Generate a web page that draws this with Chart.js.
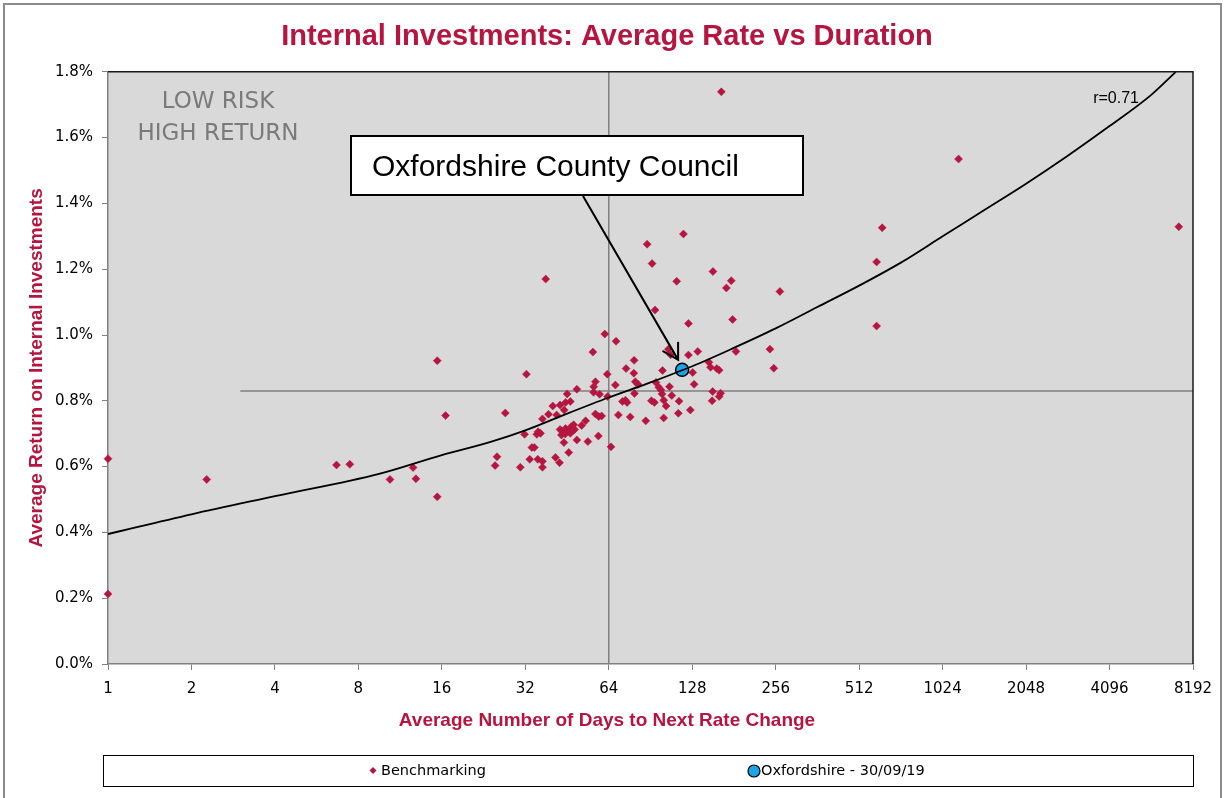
<!DOCTYPE html>
<html>
<head>
<meta charset="utf-8">
<script src="https://cdn.jsdelivr.net/npm/chart.js@4.4.1/dist/chart.umd.min.js"></script>
<style>
  html, body { margin: 0; padding: 0; background: #fff; overflow: hidden; }
</style>
</head>
<body>
<canvas id="myChart" width="1227" height="798"></canvas>
<script>
// values (days, % rate)
const benchDays = [1, 1, 2.27, 6.67, 7.45, 10.4, 12.6, 12.9, 15.4, 15.4,
  16.5, 24.9, 25.3, 27.1, 30.7, 31.8, 32.3, 33.2, 33.8, 34.5,
  35.2, 35.6, 36.3, 35.5, 36.9, 36.9, 36.9, 37.9, 38.8, 40.2,
  41.1, 41.5, 42.5, 42.7, 44.1, 44.2, 44.7, 45.3, 45.9, 46.5,
  49.1, 49.1, 47.8, 51.1, 52.8, 53.8, 56.1, 56.5, 57.3, 56.4,
  59.3, 57.3, 58.9, 60.3, 58.7, 61.9, 63.2, 63.4, 65.2, 67.6,
  68, 69.3, 71.7, 73.5, 74.5, 73.9, 76.5, 78.8, 79, 79.2,
  79.8, 81.6, 87, 88, 91.2, 91.7, 93.5, 94, 94.7, 97,
  98.7, 99.6, 100, 101, 101, 103, 105, 107, 106, 108,
  112.5, 114.7, 114, 119, 124, 124, 126, 128.5, 130, 134,
  147, 149, 152, 151.7, 151, 157, 160, 162, 160, 163,
  170, 177, 179, 184, 244, 252, 265, 592, 592, 620,
  1169, 7280, 42.7, 43.6, 44.7, 45.8, 46.8, 44.6, 46.5, 47.5,
  43.2, 48.2];
const benchRates = [0.624, 0.213, 0.561, 0.605, 0.607, 0.561, 0.597, 0.563, 0.508, 0.922,
  0.755, 0.603, 0.63, 0.763, 0.598, 0.698, 0.881, 0.622, 0.658, 0.658,
  0.698, 0.706, 0.701, 0.622, 0.616, 0.598, 0.745, 1.170, 0.759, 0.784,
  0.628, 0.757, 0.612, 0.787, 0.673, 0.772, 0.795, 0.821, 0.643, 0.798,
  0.835, 0.681, 0.727, 0.725, 0.739, 0.676, 0.948, 0.843, 0.858, 0.826,
  0.82, 0.76, 0.752, 0.754, 0.693, 1.003, 0.881, 0.813, 0.66, 0.848,
  0.981, 0.757, 0.798, 0.802, 0.795, 0.898, 0.751, 0.884, 0.923, 0.822,
  0.858, 0.85, 0.739, 1.276, 0.80, 1.217, 0.795, 1.076, 0.856, 0.841,
  0.833, 0.821, 0.892, 0.802, 0.748, 0.784, 0.957, 0.94, 0.843, 0.816,
  1.163, 0.799, 0.762, 1.307, 1.035, 0.939, 0.772, 0.886, 0.85, 0.95,
  0.917, 0.902, 1.193, 0.828, 0.80, 0.898, 0.893, 0.823, 0.813, 1.739,
  1.143, 1.165, 1.047, 0.95, 0.957, 0.899, 1.132, 1.222, 1.027, 1.326,
  1.535, 1.329, 0.713, 0.706, 0.716, 0.708, 0.721, 0.699, 0.701, 0.709,
  0.696, 0.713];

const oxfDays = [117.7];
const oxfRates = [0.894];

// trend line (r=0.71), read at these durations
const trendDays = [1, 2, 4, 9.5, 16, 24, 32, 45, 64, 90, 128, 180, 256, 362, 512, 724, 1024, 1448, 2048, 2896, 4096, 5793, 7100];
const trendRates = [0.395, 0.455, 0.51, 0.578, 0.635, 0.675, 0.71, 0.76, 0.81, 0.855, 0.905, 0.96, 1.02, 1.085, 1.15, 1.22, 1.30, 1.38, 1.46, 1.545, 1.635, 1.73, 1.80];

// average lines
const avgDays = 64;
const avgRate = 0.83;
const avgLineFrom = 3;

const xTicks = [1, 2, 4, 8, 16, 32, 64, 128, 256, 512, 1024, 2048, 4096, 8192];

const CRIMSON = '#b5153f';
const BLUE = '#1aa5e6';
const SANS = '"DejaVu Sans", Verdana, sans-serif';
const ARIAL = '"Liberation Sans", Arial, sans-serif';

const decor = {
  id: 'decor',
  beforeDraw(chart) {
    const { ctx, chartArea: a } = chart;
    ctx.save();
    ctx.fillStyle = '#fff';
    ctx.fillRect(0, 0, chart.width, chart.height);
    // outer frame
    ctx.strokeStyle = '#8c8c8c';
    ctx.lineWidth = 2;
    ctx.beginPath();
    ctx.moveTo(4, 820); ctx.lineTo(4, 4); ctx.lineTo(1221, 4); ctx.lineTo(1221, 820);
    ctx.stroke();
    // plot background
    ctx.fillStyle = '#d9d9d9';
    ctx.fillRect(a.left, a.top, a.right - a.left, a.bottom - a.top);
    ctx.restore();
  },
  afterDraw(chart) {
    const { ctx, chartArea: a } = chart;
    ctx.save();
    // top / right border
    ctx.strokeStyle = '#1a1a1a';
    ctx.lineWidth = 1.5;
    ctx.beginPath();
    ctx.moveTo(a.left, a.top); ctx.lineTo(a.right, a.top); ctx.lineTo(a.right, a.bottom);
    ctx.stroke();

    // quadrant text
    ctx.fillStyle = '#7a7a7a';
    ctx.font = '23px ' + SANS;
    ctx.textAlign = 'center';
    ctx.textBaseline = 'alphabetic';
    ctx.fillText('LOW RISK', 218, 108);
    ctx.fillText('HIGH RETURN', 218, 140);

    // r value
    ctx.fillStyle = '#000';
    ctx.font = '16px ' + ARIAL;
    ctx.textAlign = 'right';
    ctx.fillText('r=0.71', 1139, 103);

    // x axis title
    ctx.fillStyle = CRIMSON;
    ctx.font = 'bold 19px ' + ARIAL;
    ctx.textAlign = 'center';
    ctx.textBaseline = 'middle';
    ctx.fillText('Average Number of Days to Next Rate Change', 607, 721);

    // callout
    const oxf = chart.getDatasetMeta(1).data[0];
    const tipX = oxf.x - 4, tipY = oxf.y - 10;
    const startX = 583, startY = 196;
    ctx.strokeStyle = '#000';
    ctx.lineWidth = 2;
    ctx.beginPath();
    ctx.moveTo(startX, startY); ctx.lineTo(tipX, tipY);
    const ang = Math.atan2(tipY - startY, tipX - startX);
    const wing = 18;
    ctx.moveTo(tipX + wing * Math.cos(ang + Math.PI - Math.PI / 6), tipY + wing * Math.sin(ang + Math.PI - Math.PI / 6));
    ctx.lineTo(tipX, tipY);
    ctx.lineTo(tipX + wing * Math.cos(ang + Math.PI + Math.PI / 6), tipY + wing * Math.sin(ang + Math.PI + Math.PI / 6));
    ctx.stroke();

    ctx.fillStyle = '#fff';
    ctx.fillRect(351, 136, 452, 59);
    ctx.strokeRect(351, 136, 452, 59);
    ctx.fillStyle = '#000';
    ctx.font = '30px ' + ARIAL;
    ctx.textAlign = 'left';
    ctx.textBaseline = 'alphabetic';
    ctx.fillText('Oxfordshire County Council', 372, 176);

    // legend
    ctx.fillStyle = '#fff';
    ctx.fillRect(103.5, 755.5, 1090, 31);
    ctx.strokeStyle = '#000';
    ctx.lineWidth = 1;
    ctx.strokeRect(103.5, 755.5, 1090, 31);
    ctx.fillStyle = CRIMSON;
    ctx.beginPath();
    ctx.moveTo(373, 767); ctx.lineTo(376.5, 770.5); ctx.lineTo(373, 774); ctx.lineTo(369.5, 770.5);
    ctx.closePath();
    ctx.fill();
    ctx.fillStyle = BLUE;
    ctx.beginPath();
    ctx.arc(754, 771, 6, 0, Math.PI * 2);
    ctx.fill();
    ctx.lineWidth = 1.2;
    ctx.stroke();
    ctx.fillStyle = '#000';
    ctx.font = '14.5px ' + SANS;
    ctx.textBaseline = 'middle';
    ctx.fillText('Benchmarking', 381, 771);
    ctx.fillText('Oxfordshire - 30/09/19', 761, 771);
    ctx.restore();
  }
};

const config = {
  type: 'scatter',
  data: {
    datasets: [
      {
        label: 'Trend',
        type: 'line',
        data: trendDays.map((d, i) => ({ x: d, y: trendRates[i] })),
        borderColor: '#000',
        borderWidth: 1.8,
        pointRadius: 0,
        cubicInterpolationMode: 'monotone',
        fill: false
      },
      {
        label: 'Oxfordshire - 30/09/19',
        data: oxfDays.map((d, i) => ({ x: d, y: oxfRates[i] })),
        backgroundColor: BLUE,
        borderColor: '#000',
        borderWidth: 1.5,
        pointRadius: 6.5
      },
      {
        label: 'Benchmarking',
        data: benchDays.map((d, i) => ({ x: d, y: benchRates[i] })),
        pointStyle: 'rectRot',
        backgroundColor: CRIMSON,
        borderColor: CRIMSON,
        borderWidth: 0.5,
        pointRadius: 4,
        clip: false
      },
      {
        label: 'avg rate',
        type: 'line',
        data: [{ x: avgLineFrom, y: avgRate }, { x: 8192, y: avgRate }],
        borderColor: '#7f7f7f',
        borderWidth: 1.5,
        pointRadius: 0
      },
      {
        label: 'avg days',
        type: 'line',
        data: [{ x: avgDays, y: 0 }, { x: avgDays, y: 1.8 }],
        borderColor: '#7f7f7f',
        borderWidth: 1.5,
        pointRadius: 0
      }
    ]
  },
  options: {
    responsive: false,
    animation: false,
    layout: { padding: { left: 21, right: 34, top: 0, bottom: 64 } },
    plugins: {
      legend: { display: false },
      tooltip: { enabled: false },
      title: {
        display: true,
        text: 'Internal Investments: Average Rate vs Duration',
        color: CRIMSON,
        font: { family: ARIAL, size: 29, weight: 'bold' },
        padding: { top: 20, bottom: 17 }
      }
    },
    scales: {
      x: {
        type: 'logarithmic',
        min: 1,
        max: 8192,
        afterBuildTicks: s => { s.ticks = xTicks.map(v => ({ value: v })); },
        afterFit: s => { s.height = 70; },
        ticks: {
          autoSkip: false,
          maxRotation: 0,
          padding: 10,
          color: '#000',
          font: { family: SANS, size: 15 },
          callback: v => String(v)
        },
        grid: { drawOnChartArea: false, drawTicks: true, tickLength: 6, color: '#808080' },
        border: { color: '#808080', width: 1.5 }
      },
      y: {
        min: 0,
        max: 1.8,
        afterFit: s => { s.width = 87; },
        ticks: {
          stepSize: 0.2,
          padding: 9,
          color: '#000',
          font: { family: SANS, size: 15 },
          callback: v => v.toFixed(1) + '%'
        },
        grid: { drawOnChartArea: false, drawTicks: true, tickLength: 6, color: '#808080' },
        border: { color: '#808080', width: 1.5 },
        title: {
          display: true,
          text: 'Average Return on Internal Investments',
          color: CRIMSON,
          font: { family: ARIAL, size: 19, weight: 'bold' },
          padding: { top: 4, bottom: 4 }
        }
      }
    }
  },
  plugins: [decor]
};

const ctx = document.getElementById('myChart').getContext('2d');
const myChart = new Chart(ctx, config);
</script>
</body>
</html>
